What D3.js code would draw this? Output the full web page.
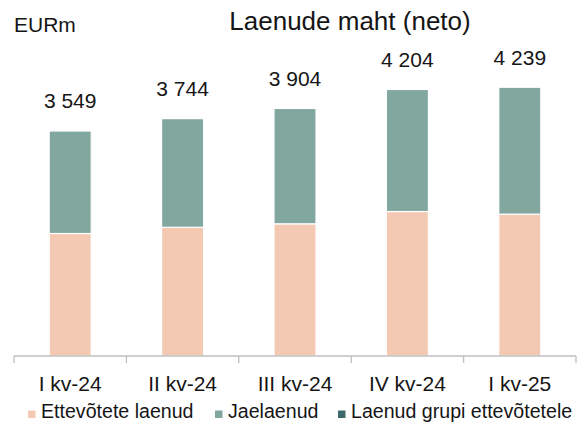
<!DOCTYPE html>
<html>
<head>
<meta charset="utf-8">
<script src="https://cdn.jsdelivr.net/npm/d3@7"></script>
<style>
  body { margin: 0; background: #fff; }
  svg { display: block; font-family: "Liberation Sans", Arial, sans-serif; }
</style>
</head>
<body>
<div></div>
<script>
const width = 577
const height = 426

// data
const categories = ['I kv-24', 'II kv-24', 'III kv-24', 'IV kv-24', 'I kv-25']
const ettevotete = [1932, 2030, 2085, 2279, 2237]
const jaelaenud = [1617, 1714, 1819, 1925, 2002]
const grupi = [0, 0, 0, 0, 0]
const totals = [3549, 3744, 3904, 4204, 4239]
const seriesNames = ['Ettevõtete laenud', 'Jaelaenud', 'Laenud grupi ettevõtetele']
const colors = ['#f4c9b3', '#82a79f', '#3e6a6d']

let svg = d3.select('div').append('svg')
    .attr('width', width)
    .attr('height', height)

const rows = categories.map((c, i) => ({
    cat: c, ettevotete: ettevotete[i], jae: jaelaenud[i], grupi: grupi[i], total: totals[i]
}))
const keys = ['ettevotete', 'jae', 'grupi']
const stacked = d3.stack().keys(keys)(rows)

const x = d3.scaleBand().domain(categories).range([14, 576]).padding(0)
const y = d3.scaleLinear().domain([0, 4500]).range([356, 70.7])
const barW = x.bandwidth() * 0.374

// title + unit
svg.append('text')
    .attr('x', 14).attr('y', 32)
    .style('font-size', '21px').style('fill', '#151515')
    .text('EURm')
svg.append('text')
    .attr('x', 350).attr('y', 30)
    .attr('text-anchor', 'middle')
    .style('font-size', '26px').style('fill', '#151515')
    .text('Laenude maht (neto)')

// bars
svg.selectAll('g.series')
    .data(stacked)
    .enter()
    .append('g')
    .attr('class', 'series')
    .style('fill', (d, i) => colors[i])
    .selectAll('rect')
    .data(d => d)
    .enter()
    .append('rect')
    .attr('x', d => x(d.data.cat) + (x.bandwidth() - barW) / 2)
    .attr('y', d => y(d[1]))
    .attr('width', barW)
    .attr('height', d => y(d[0]) - y(d[1]))
    .style('stroke', '#fff')
    .style('stroke-width', 1.2)

// totals above bars
svg.selectAll('text.total')
    .data(rows)
    .enter()
    .append('text')
    .attr('class', 'total')
    .attr('x', d => x(d.cat) + x.bandwidth() / 2)
    .attr('y', d => y(d.total) - 22.5)
    .attr('text-anchor', 'middle')
    .style('font-size', '21px').style('fill', '#151515')
    .text(d => d3.format(',')(d.total).replace(',', ' '))

// x axis
let axis = svg.append('g').attr('transform', 'translate(0,356)')
axis.append('line')
    .attr('x1', 14).attr('x2', 576)
    .style('stroke', '#bfbfbf').style('stroke-width', 1.3)
const edges = categories.map(c => x(c)).concat([x.range()[1]])
axis.selectAll('line.tick')
    .data(edges)
    .enter()
    .append('line')
    .attr('class', 'tick')
    .attr('x1', d => d).attr('x2', d => d)
    .attr('y1', 0).attr('y2', 7)
    .style('stroke', '#bfbfbf').style('stroke-width', 1.3)
axis.selectAll('text')
    .data(categories)
    .enter()
    .append('text')
    .attr('x', d => x(d) + x.bandwidth() / 2)
    .attr('y', 35)
    .attr('text-anchor', 'middle')
    .style('font-size', '21px').style('fill', '#151515')
    .text(d => d)

// legend
const legendX = [28, 215, 338]
let legend = svg.selectAll('g.legend')
    .data(seriesNames)
    .enter()
    .append('g')
    .attr('class', 'legend')
    .attr('transform', (d, i) => 'translate(' + legendX[i] + ',418)')
legend.append('rect')
    .attr('x', 0).attr('y', -7.5)
    .attr('width', 7.5).attr('height', 7.5)
    .style('fill', (d, i) => colors[i])
legend.append('text')
    .attr('x', 13).attr('y', 0)
    .style('font-size', '19.6px').style('fill', '#151515')
    .text(d => d)
</script>
</body>
</html>
